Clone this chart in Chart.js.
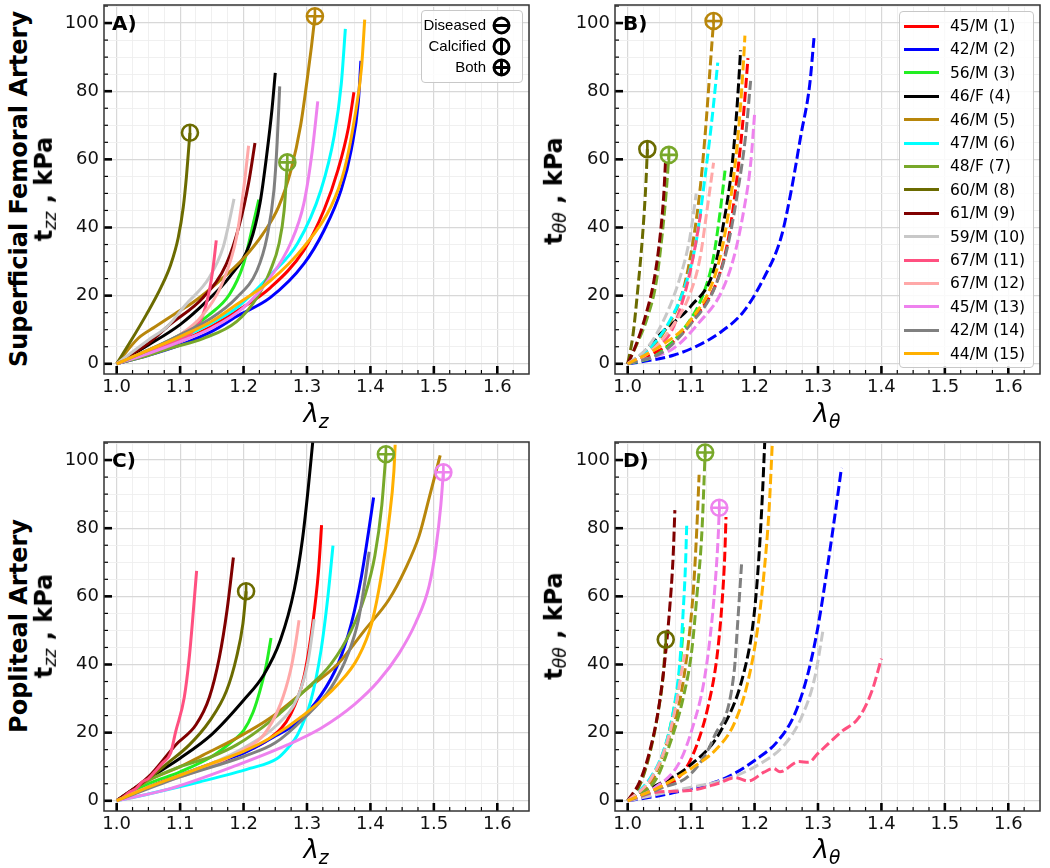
<!DOCTYPE html>
<html>
<head>
<meta charset="utf-8">
<script src="https://cdn.jsdelivr.net/npm/chart.js@4.4.1/dist/chart.umd.min.js"></script>
<style>
  body { margin: 0; background: #fff; }
  #fig { position: relative; width: 1050px; height: 868px; overflow: hidden; font-family: 'DejaVu Sans', sans-serif; color: #000; }
  canvas { position: absolute; }
  .ylab { position: absolute; transform: translate(-50%, -50%) rotate(-90deg); white-space: nowrap; font-weight: bold; font-size: 24px; line-height: 24px; }
  .ylab sub { font-style: italic; font-weight: normal; font-size: 0.72em; vertical-align: -0.25em; }
  .xlab { position: absolute; transform: translateX(-50%); white-space: nowrap; font-style: italic; font-size: 26px; line-height: 26px; }
  .xlab sub { font-size: 0.72em; vertical-align: -0.3em; }
  .tag { position: absolute; font-weight: bold; font-size: 20px; line-height: 20px; }
  .box { position: absolute; background: rgba(255,255,255,0.85); border: 1px solid #c8c8c8; border-radius: 4px; box-sizing: border-box; }
  .lrow { position: absolute; height: 20px; line-height: 20px; white-space: nowrap; }
  .swatch { position: absolute; top: 8.5px; width: 35px; height: 3px; }
  .mrow { position: absolute; height: 20px; line-height: 20px; font-family: 'Liberation Sans', Arial, sans-serif; font-size: 15px; white-space: nowrap; }
</style>
</head>
<body>
<div id="fig"></div>
<script>
// subjects (age/sex) and their colours
const subjects = ['45/M (1)', '42/M (2)', '56/M (3)', '46/F (4)', '46/M (5)', '47/M (6)', '48/F (7)',
  '60/M (8)', '61/M (9)', '59/M (10)', '67/M (11)', '67/M (12)', '45/M (13)', '42/M (14)', '44/M (15)'];
const colors = ['#ff0000', '#0000ff', '#22ee22', '#000000', '#b8860b', '#00ffff', '#78a82a',
  '#6b6b00', '#800000', '#c8c8c8', '#ff5080', '#ffa8a8', '#ee82ee', '#808080', '#ffb000'];

// axis ticks (labelled majors, 4 minor steps each)
const xMajor = [1.0, 1.1, 1.2, 1.3, 1.4, 1.5, 1.6];
const yMajor = [0, 20, 40, 60, 80, 100];

// A) superficial femoral artery, axial: [lambda_z, t_zz kPa]
const sfaAxial = [
  [[1,0],[1.05,3],[1.1,6.5],[1.15,11],[1.189,15.4],[1.242,22.3],[1.295,33.3],[1.327,45.2],[1.349,57],[1.365,69],[1.374,79.7]],
  [[1,0],[1.05,2.5],[1.1,5.5],[1.15,9.5],[1.189,13.9],[1.242,19.4],[1.295,29.3],[1.327,39.2],[1.354,51.1],[1.37,63],[1.381,77],[1.385,88.9]],
  [[1,0],[1.05,4],[1.1,8.5],[1.146,14.4],[1.178,20.4],[1.2,29.3],[1.213,39.2],[1.224,48.2]],
  [[1,0],[1.05,5.5],[1.1,11.5],[1.14,18],[1.178,25.5],[1.21,35.3],[1.226,47.2],[1.237,62],[1.245,75],[1.25,85.4]],
  [[1,0],[1.034,7.5],[1.06,10.8],[1.092,14.7],[1.12,18],[1.16,24],[1.2,31],[1.23,38],[1.255,46],[1.275,57],[1.29,70],[1.3,83],[1.307,93],[1.3125,102]],
  [[1,0],[1.05,3.5],[1.1,7.5],[1.15,12],[1.189,16.4],[1.242,26],[1.285,35.3],[1.322,51],[1.343,67],[1.354,82],[1.3605,98.3]],
  [[1,0],[1.05,2.5],[1.083,4.5],[1.136,7.4],[1.189,12.4],[1.221,19.4],[1.242,27.3],[1.256,35.3],[1.264,45],[1.267,53],[1.269,59.1]],
  [[1,0],[1.02,6],[1.047,14.5],[1.07,22.5],[1.085,29],[1.097,37],[1.105,46],[1.11,55],[1.113,62],[1.1155,67.8]],
  [[1,0],[1.03,3.5],[1.05,6],[1.083,11.4],[1.136,19.4],[1.173,29.3],[1.194,41.2],[1.208,53.1],[1.218,64.8]],
  [[1,0],[1.05,7],[1.08,11],[1.109,17.4],[1.146,25.3],[1.168,34.3],[1.178,42.2],[1.185,48.4]],
  [[1,0],[1.05,3.5],[1.1,7],[1.114,8.4],[1.136,14.4],[1.146,21.4],[1.152,28.3],[1.157,36.2]],
  [[1,0],[1.05,4],[1.1,8.5],[1.136,14.4],[1.168,24.3],[1.189,37.2],[1.2,51.1],[1.208,64]],
  [[1,0],[1.05,3],[1.1,6.5],[1.15,10.5],[1.2,16.5],[1.242,25.3],[1.274,35.3],[1.295,47],[1.308,62],[1.317,77]],
  [[1,0],[1.05,4],[1.1,8.5],[1.15,13.5],[1.189,19.4],[1.221,27.3],[1.237,37.2],[1.248,51.1],[1.253,65],[1.257,81.4]],
  [[1,0],[1.05,4],[1.1,8],[1.15,12.5],[1.189,17.4],[1.242,24.3],[1.295,34.3],[1.338,46.2],[1.359,57],[1.375,72],[1.386,87],[1.391,101]]
];

// B) superficial femoral artery, circumferential: [lambda_theta, t_thetatheta kPa]
const sfaCirc = [
  [[1,0],[1.04,3],[1.072,6.5],[1.109,14.4],[1.141,24.3],[1.159,37],[1.1726,55],[1.183,74],[1.1896,89.7]],
  [[1,0],[1.019,0.5],[1.072,2.5],[1.109,5.2],[1.146,9.2],[1.183,15.4],[1.215,25.3],[1.242,37.2],[1.258,51],[1.273,67],[1.287,82],[1.2937,95.6]],
  [[1,0],[1.045,2.5],[1.093,11.4],[1.119,20.4],[1.135,31],[1.146,45],[1.154,57.6]],
  [[1,0],[1.02,2.5],[1.053,9],[1.1,17],[1.135,27],[1.151,41],[1.165,59],[1.173,77],[1.178,92]],
  [[1,0],[1.024,2.5],[1.056,9],[1.088,22],[1.104,37],[1.114,51],[1.122,67],[1.13,87],[1.1354,100.6]],
  [[1,0],[1.029,3.5],[1.066,12.5],[1.093,24.3],[1.109,37],[1.122,55],[1.133,72],[1.142,88.4]],
  [[1,0],[1.015,6],[1.03,13],[1.045,24],[1.055,39],[1.061,51],[1.065,61.3]],
  [[1,0],[1.008,8],[1.016,22],[1.024,39],[1.029,54],[1.031,63]],
  [[1,0],[1.012,5],[1.028,14],[1.042,25],[1.052,39],[1.057,50],[1.0595,59]],
  [[1,0],[1.03,4.5],[1.056,12.5],[1.082,25],[1.098,37],[1.108,50]],
  [[1,0],[1.04,4],[1.07,10],[1.092,22],[1.105,33],[1.115,44]],
  [[1,0],[1.035,3.5],[1.072,11.4],[1.098,20.4],[1.114,31],[1.125,45],[1.1354,59]],
  [[1,0],[1.072,4.5],[1.114,12.4],[1.146,20.4],[1.167,31],[1.183,45],[1.194,59],[1.2,73.2]],
  [[1,0],[1.056,3.5],[1.098,11.4],[1.135,21.4],[1.157,34],[1.173,50],[1.186,67],[1.1938,83]],
  [[1,0],[1.05,5],[1.1,13],[1.141,28],[1.162,48],[1.175,69],[1.183,90],[1.1848,96.3]]
];

// C) popliteal artery, axial
const popAxial = [
  [[1,0],[1.05,4],[1.1,7.5],[1.15,10.5],[1.189,13.4],[1.242,18.4],[1.274,25.3],[1.295,36.2],[1.309,52],[1.318,67],[1.323,80.9]],
  [[1,0],[1.05,4],[1.1,7.5],[1.15,11],[1.2,14],[1.25,19],[1.285,23],[1.322,31],[1.349,40.2],[1.37,52.1],[1.386,66],[1.397,78.9],[1.405,89]],
  [[1,0],[1.05,5],[1.1,8.5],[1.15,13],[1.184,17.7],[1.2,20.6],[1.215,26],[1.226,32.4],[1.236,40],[1.2433,47.8]],
  [[1,0],[1.05,6.5],[1.1,12.5],[1.15,19.5],[1.2,29.5],[1.232,37],[1.258,47.1],[1.28,62],[1.293,76.9],[1.302,91.8],[1.309,105.2]],
  [[1,0],[1.05,6],[1.1,10],[1.136,13.4],[1.189,18.4],[1.242,24.3],[1.2955,32.2],[1.349,40.2],[1.391,50.1],[1.429,59],[1.455,68],[1.477,77.9],[1.4925,88.8],[1.51,101.4]],
  [[1,0],[1.05,2],[1.13,5.5],[1.21,9.5],[1.253,12.4],[1.27,15.5],[1.285,19.3],[1.306,29.3],[1.322,44],[1.333,60],[1.341,74.9]],
  [[1,0],[1.05,6],[1.1,10],[1.15,13],[1.189,16.4],[1.242,23.3],[1.2955,32.2],[1.338,40.2],[1.37,50.1],[1.391,60],[1.407,71.9],[1.418,86.8],[1.4244,101.7]],
  [[1,0],[1.05,6.5],[1.08,11],[1.1145,16.4],[1.146,23.3],[1.173,32.2],[1.189,42.2],[1.199,52],[1.204,61.5]],
  [[1,0],[1.05,7],[1.093,16.4],[1.125,22.3],[1.146,30.3],[1.162,42.2],[1.174,56],[1.184,71.4]],
  [[1,0],[1.1,7.5],[1.15,11],[1.2,15.5],[1.253,22.3],[1.285,30.3],[1.301,40.2],[1.3115,53.3]],
  [[1,0],[1.01,1],[1.02,2.5],[1.03,3.5],[1.04,5.5],[1.05,6.5],[1.06,8.5],[1.072,11],[1.085,14],[1.093,20.3],[1.1065,30.3],[1.1145,42.2],[1.121,56],[1.126,67.5]],
  [[1,0],[1.05,4],[1.1,7],[1.15,10.5],[1.2,15],[1.2316,19.3],[1.258,28.3],[1.274,38.2],[1.282,46.1],[1.2875,53]],
  [[1,0],[1.083,3.5],[1.189,10.4],[1.269,16.4],[1.322,21.3],[1.375,28.3],[1.413,35.2],[1.445,43.2],[1.471,52.1],[1.4925,63],[1.503,73.9],[1.511,86.8],[1.515,96.4]],
  [[1,0],[1.1,7],[1.2,13],[1.25,17],[1.2955,24.3],[1.338,33.2],[1.365,43.2],[1.381,53],[1.391,64],[1.398,73.1]],
  [[1,0],[1.05,4],[1.1,7.5],[1.15,11],[1.2,14.5],[1.242,18.4],[1.2955,25.3],[1.349,34.2],[1.381,42.2],[1.402,52.1],[1.418,67],[1.429,81.8],[1.437,96.7],[1.439,104.5]]
];

// D) popliteal artery, circumferential
const popCirc = [
  [[1,0],[1.04,3],[1.0876,8.4],[1.109,16.4],[1.1275,28.3],[1.1407,42.2],[1.1487,58],[1.153,71.9],[1.155,83.3]],
  [[1,0],[1.05,1.5],[1.098,3.5],[1.151,6.4],[1.2045,12.4],[1.236,17.4],[1.263,25.3],[1.284,37.2],[1.3,51.1],[1.316,70],[1.329,86.8],[1.337,97.7]],
  [[1,0],[1.03,5],[1.056,14],[1.072,26],[1.082,38],[1.0876,51]],
  [[1,0],[1.04,4],[1.095,9.9],[1.147,20.6],[1.183,37.5],[1.199,54.1],[1.207,71.9],[1.2124,89.8],[1.216,105]],
  [[1,0],[1.04,6.4],[1.061,16.4],[1.082,29.3],[1.0956,46.1],[1.1036,62],[1.109,79.9],[1.1126,95.7]],
  [[1,0],[1.0345,6.4],[1.056,14.4],[1.072,26.3],[1.082,40.2],[1.0876,56],[1.0913,70],[1.093,80.7]],
  [[1,0],[1.045,6.4],[1.066,16.4],[1.0876,30.3],[1.101,44.1],[1.109,60],[1.117,78.9],[1.1221,102.2]],
  [[1,0],[1.02,5],[1.035,14],[1.048,26],[1.056,37],[1.06,47.3]],
  [[1,0],[1.0186,5.5],[1.0345,14.4],[1.048,26.3],[1.058,40.2],[1.066,56],[1.0717,71.9],[1.0744,85.3]],
  [[1,0],[1.1,4],[1.15,6],[1.2045,10.4],[1.247,16.4],[1.2735,24.3],[1.295,36.2],[1.308,50.1]],
  [[1,0],[1.045,2.5],[1.098,3],[1.141,5],[1.17,6.8],[1.19,5.8],[1.215,8.4],[1.23,9.5],[1.24,8.5],[1.27,11.5],[1.285,11.3],[1.3,13.9],[1.337,20.3],[1.364,24.3],[1.385,32.2],[1.4,41.7]],
  [[1,0],[1.035,6],[1.06,16],[1.076,28],[1.085,38],[1.09,43]],
  [[1,0],[1.04,3.5],[1.082,11.4],[1.1036,22.3],[1.1195,34.2],[1.13,48.1],[1.138,64],[1.143,78.9],[1.1444,86]],
  [[1,0],[1.05,3.5],[1.1,8],[1.136,18.7],[1.168,38.2],[1.1726,50],[1.1795,69.4]],
  [[1,0],[1.05,4],[1.1,9.5],[1.141,15.4],[1.167,22.3],[1.1885,34.2],[1.2045,50.1],[1.215,67],[1.223,85.8],[1.228,105]]
];

// end-of-test markers: [subject number, kind]
const sfaAxialMarks = [[8, 'calcified'], [5, 'both'], [7, 'both']];
const sfaCircMarks = [[8, 'calcified'], [7, 'both'], [5, 'both']];
const popAxialMarks = [[8, 'calcified'], [7, 'both'], [13, 'both']];
const popCircMarks = [[8, 'calcified'], [7, 'both'], [13, 'both']];

Chart.defaults.font.family = "'DejaVu Sans', sans-serif";
const fig = document.getElementById('fig');

// majors plus 4 minor steps per interval, up to the axis max
function withMinor(major, max) {
  const step = (major[1] - major[0]) / 4;
  const out = [];
  for (let k = 0; major[0] + k * step <= max + 1e-9; k++) out.push(+(major[0] + k * step).toFixed(4));
  return out;
}

// inward tick marks + full frame, like the matplotlib original
const frameTicks = {
  id: 'frameTicks',
  afterDatasetsDraw(chart) {
    const { ctx, chartArea: a, scales: { x, y } } = chart;
    ctx.save();
    ctx.strokeStyle = '#000';
    x.ticks.forEach((t, i) => {
      const px = x.getPixelForValue(t.value);
      if (px < a.left || px > a.right - 1) return;
      const major = i % 4 === 0;
      ctx.lineWidth = major ? 2.6 : 1.2;
      ctx.beginPath();
      ctx.moveTo(px, a.bottom);
      ctx.lineTo(px, a.bottom - (major ? 8 : 4));
      ctx.stroke();
    });
    y.ticks.forEach((t, i) => {
      const py = y.getPixelForValue(t.value);
      if (py < a.top + 1 || py > a.bottom) return;
      const major = i % 4 === 0;
      ctx.lineWidth = major ? 2.6 : 1.2;
      ctx.beginPath();
      ctx.moveTo(a.left, py);
      ctx.lineTo(a.left + (major ? 8 : 4), py);
      ctx.stroke();
    });
    ctx.strokeStyle = '#333';
    ctx.lineWidth = 1.5;
    ctx.strokeRect(a.left, a.top, a.width, a.height);
    ctx.restore();
  }
};

const PAD_L = 60, PAD_T = 12, PAD_R = 12, PAD_B = 36;
const xTicks = withMinor(xMajor, 1.65);
const yTicks = withMinor(yMajor, 105);

function makePanel(rect, series, marks, dashed) {
  const canvas = document.createElement('canvas');
  canvas.width = rect.w + PAD_L + PAD_R;
  canvas.height = rect.h + PAD_T + PAD_B;
  canvas.style.left = (rect.x - PAD_L) + 'px';
  canvas.style.top = (rect.y - PAD_T) + 'px';
  fig.appendChild(canvas);

  const datasets = series.map((pts, i) => ({
    label: subjects[i],
    data: pts.map(([x, y]) => ({ x, y })),
    borderColor: colors[i],
    borderWidth: 3,
    borderDash: dashed ? [10, 4] : [],
    cubicInterpolationMode: 'monotone',
    pointRadius: 0,
    fill: false,
    order: 15 - i
  }));

  marks.forEach(([subj, kind]) => {
    const pts = series[subj - 1];
    const [x, y] = pts[pts.length - 1];
    const base = {
      data: [{ x, y }], showLine: false, clip: false, order: -1,
      pointRadius: 8, pointBorderWidth: 2.6, pointBorderColor: colors[subj - 1],
      pointBackgroundColor: 'rgba(0,0,0,0)', borderColor: colors[subj - 1]
    };
    datasets.push({ ...base, pointStyle: 'circle' });
    datasets.push({ ...base, pointStyle: kind === 'both' ? 'cross' : 'line', pointRotation: kind === 'calcified' ? 90 : 0 });
  });

  const gridOpts = {
    drawTicks: false,
    color: c => c.index % 4 === 0 ? '#d8d8d8' : '#eeeeee',
    lineWidth: c => c.index % 4 === 0 ? 1.2 : 0.9
  };

  new Chart(canvas, {
    type: 'line',
    data: { datasets },
    options: {
      responsive: false,
      animation: false,
      devicePixelRatio: 1,
      events: [],
      layout: { padding: { left: 0, top: PAD_T, right: PAD_R, bottom: 0 } },
      plugins: { legend: { display: false }, tooltip: { enabled: false } },
      scales: {
        x: {
          type: 'linear', min: 0.98, max: 1.65,
          afterBuildTicks: s => { s.ticks = xTicks.map(v => ({ value: v })); },
          afterFit: s => { s.height = PAD_B; s.paddingLeft = 0; s.paddingRight = 0; },
          border: { display: false },
          grid: gridOpts,
          ticks: {
            autoSkip: false, maxRotation: 0, padding: 3, color: '#111', font: { size: 18 },
            callback: (v, i) => i % 4 === 0 ? Number(v).toFixed(1) : ''
          }
        },
        y: {
          type: 'linear', min: -3, max: 105.3,
          afterBuildTicks: s => { s.ticks = yTicks.map(v => ({ value: v })); },
          afterFit: s => { s.width = PAD_L; s.paddingTop = 0; s.paddingBottom = 0; },
          border: { display: false },
          grid: gridOpts,
          ticks: {
            autoSkip: false, padding: 5, color: '#111', font: { size: 18 },
            callback: (v, i) => i % 4 === 0 ? String(v) : ''
          }
        }
      }
    },
    plugins: [frameTicks]
  });
}

function addHtml(cls, html, style) {
  const d = document.createElement('div');
  d.className = cls;
  d.innerHTML = html;
  Object.assign(d.style, style);
  fig.appendChild(d);
  return d;
}

const rects = {
  A: { x: 104, y: 5, w: 425, h: 369 },
  B: { x: 615, y: 5, w: 425, h: 369 },
  C: { x: 104, y: 442, w: 425, h: 369 },
  D: { x: 615, y: 442, w: 425, h: 369 }
};

makePanel(rects.A, sfaAxial, sfaAxialMarks, false);
makePanel(rects.B, sfaCirc, sfaCircMarks, true);
makePanel(rects.C, popAxial, popAxialMarks, false);
makePanel(rects.D, popCirc, popCircMarks, true);

// panel tags
[['A)', rects.A, 13], ['B)', rects.B, 13], ['C)', rects.C, 450], ['D)', rects.D, 450]].forEach(([t, r, top]) => {
  addHtml('tag', t, { left: (r.x + 8) + 'px', top: top + 'px' });
});

// axis titles
addHtml('ylab', 'Superficial Femoral Artery', { left: '18.7px', top: '189px' });
addHtml('ylab', 't<sub>zz</sub> , kPa', { left: '47px', top: '189px' });
addHtml('ylab', 't<sub>θθ</sub> , kPa', { left: '557px', top: '191px' });
addHtml('ylab', 'Popliteal Artery', { left: '18.7px', top: '626px' });
addHtml('ylab', 't<sub>zz</sub> , kPa', { left: '47px', top: '626px' });
addHtml('ylab', 't<sub>θθ</sub> , kPa', { left: '557px', top: '626px' });
addHtml('xlab', 'λ<sub>z</sub>', { left: '316px', top: '400px' });
addHtml('xlab', 'λ<sub>θ</sub>', { left: '827px', top: '400px' });
addHtml('xlab', 'λ<sub>z</sub>', { left: '316px', top: '836px' });
addHtml('xlab', 'λ<sub>θ</sub>', { left: '827px', top: '836px' });

// marker key (panel A)
const keyBox = addHtml('box', '', { left: '421px', top: '10px', width: '102px', height: '73px' });
const symbol = kind => {
  const h = '<line x1="2.5" y1="9.5" x2="16.5" y2="9.5" stroke="#000" stroke-width="3"/>';
  const v = '<line x1="9.5" y1="2.5" x2="9.5" y2="16.5" stroke="#000" stroke-width="3"/>';
  return '<svg width="19" height="19" viewBox="0 0 19 19"><circle cx="9.5" cy="9.5" r="7.5" fill="none" stroke="#000" stroke-width="3"/>' +
    (kind === 'Diseased' ? h : kind === 'Calcified' ? v : h + v) + '</svg>';
};
['Diseased', 'Calcified', 'Both'].forEach((k, i) => {
  const row = document.createElement('div');
  row.className = 'mrow';
  row.style.top = (4 + i * 21) + 'px';
  row.style.right = '36px';
  row.textContent = k;
  keyBox.appendChild(row);
  const s = document.createElement('div');
  s.innerHTML = symbol(k);
  Object.assign(s.style, { position: 'absolute', left: '70px', top: (4.5 + i * 21) + 'px', width: '19px', height: '19px' });
  keyBox.appendChild(s);
});

// subject legend (panel B)
const legBox = addHtml('box', '', { left: '899px', top: '11px', width: '135px', height: '357px' });
subjects.forEach((name, i) => {
  const row = document.createElement('div');
  row.className = 'lrow';
  row.style.top = (4 + i * 23.4) + 'px';
  row.style.left = '4px';
  row.style.fontSize = '15.5px';
  row.innerHTML = '<span class="swatch" style="left:0;background:' + colors[i] + '"></span>' +
    '<span style="position:absolute;left:46px">' + name + '</span>';
  legBox.appendChild(row);
});
</script>
</body>
</html>
